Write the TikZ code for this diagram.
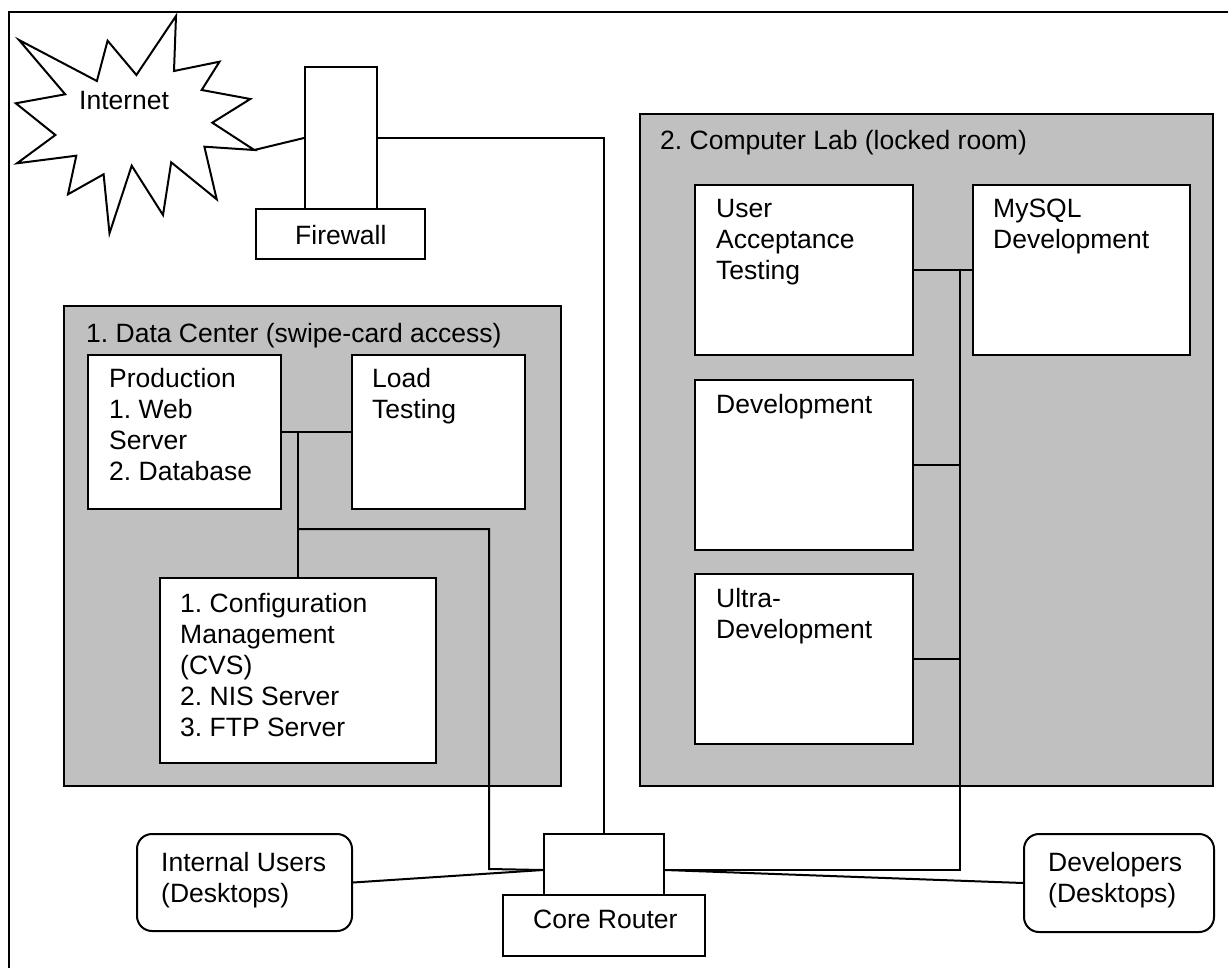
\documentclass[tikz,border=0pt]{standalone}
\usepackage{fontspec}
\setmainfont{Liberation Sans}
\definecolor{roomgray}{RGB}{192,192,192}
\frenchspacing
\begin{document}
\begin{tikzpicture}[x=1pt,y=-1pt,
  wire/.style={line width=2pt, line join=miter},
  box/.style={draw, fill=white, line width=2pt, inner sep=0pt, anchor=north west},
  room/.style={box, fill=roomgray},
  desk/.style={box, rounded corners=15pt},
  lbl/.style={anchor=north west, inner sep=0pt, align=left,
              font=\fontsize{26.5pt}{31pt}\selectfont}]

\useasboundingbox (0,0) rectangle (1228,968);
\fill[white] (0,0) rectangle (1228,968);
\clip (0,0) rectangle (1228,968);

% outer frame (runs off the right and bottom edges)
\draw[line width=2pt] (9,12) rectangle (1260,1000);

% Internet cloud (star burst)
\draw[line width=2pt, fill=white, line join=miter]
  (19,40) -- (96.9,81) -- (107.6,40.7) -- (136.4,75) -- (176,16) -- (174,71)
  -- (219.5,61.7) -- (201.7,90) -- (250.3,99) -- (212.3,122.7) -- (254.3,150)
  -- (204.4,146.7) -- (216.7,199.3) -- (171.2,162.3) -- (163,215) -- (131.7,165.7)
  -- (109.5,233.3) -- (103.6,174.3) -- (68,194.3) -- (76.3,155.7) -- (17,163.3)
  -- (55.4,135) -- (15.8,103.3) -- (65.2,94.3) -- cycle;
\coordinate (nettip) at (254.3,150);
\node[lbl] (t-inet) at (79,91) {Internet};

% firewall
\node[box, minimum width=72pt, minimum height=142pt] (fwtop) at (304,66) {};
\node[box, minimum width=169pt, minimum height=50pt] (fwbase) at (255,208) {};
\node[lbl] (t-fw) at (295,225) {Firewall};

% rooms
\node[room, minimum width=497pt, minimum height=480pt] (dc) at (63,305) {};
\node[lbl] (t-dc) at (86,323) {1. Data Center (swipe-card access)};
\node[room, minimum width=573pt, minimum height=672pt] (lab) at (639,113) {};
\node[lbl] (t-lab) at (660,130) {2. Computer Lab (locked room)};

% data center machines
\node[box, minimum width=193pt, minimum height=154pt] (prod) at (87,354) {};
\node[lbl] (t-prod) at (109,368) {Production\\1. Web\\Server\\2. Database};
\node[box, minimum width=173pt, minimum height=154pt] (load) at (351,354) {};
\node[lbl] (t-load) at (372,368) {Load\\Testing};
\node[box, minimum width=276pt, minimum height=185pt] (cm) at (159,577) {};
\node[lbl] (t-cm) at (180,593) {1. Configuration\\Management\\(CVS)\\2. NIS Server\\3. FTP Server};

% computer lab machines
\node[box, minimum width=218pt, minimum height=170pt] (uat) at (694,184) {};
\node[lbl] (t-uat) at (716,199) {User\\Acceptance\\Testing};
\node[box, minimum width=217pt, minimum height=170pt] (mysql) at (972,184) {};
\node[lbl] (t-mysql) at (993,199) {MySQL\\Development};
\node[box, minimum width=218pt, minimum height=170pt] (dev) at (694,379) {};
\node[lbl] (t-dev) at (716,394) {Development};
\node[box, minimum width=218pt, minimum height=170pt] (ultra) at (694,573) {};
\node[lbl] (t-ultra) at (716,588) {Ultra-\\Development};

% core router
\node[box, minimum width=120pt, minimum height=61pt] (rtop) at (543,833) {};
\node[box, minimum width=202pt, minimum height=61pt] (rbase) at (502,894) {};
\node[lbl] (t-router) at (533,910) {Core Router};

% desktops
\node[desk, minimum width=215pt, minimum height=97pt] (iu) at (136,833) {};
\node[lbl] (t-iu) at (161,852) {Internal Users\\(Desktops)};
\node[desk, minimum width=190pt, minimum height=98pt] (devs) at (1023,833) {};
\node[lbl] (t-devs) at (1048,852) {Developers\\(Desktops)};

% links
\coordinate (rportl) at ([yshift=-5.5pt]rtop.west);
\coordinate (rportr) at ([yshift=-5.5pt]rtop.east);
\draw[wire] (nettip) -- (fwtop.west);
\draw[wire] (fwtop.east) -| (rtop.north);

\draw[wire] (prod.east) -- (load.west);
\draw[wire] (cm.north) -- (cm.north |- prod.east);
\coordinate (dcbranch) at (297,529);
\coordinate (dcdrop) at (489,869);
\draw[wire] (dcbranch) -| (dcdrop) -- (rportl);

\draw[wire] (uat.east) -- (mysql.west);
\coordinate (labbus) at (960,269);
\draw[wire] (labbus) |- (rportr);
\draw[wire] (dev.east) -- (dev.east -| labbus);
\draw[wire] (ultra.east) -- (ultra.east -| labbus);

\draw[wire] (iu.east) -- (rportl);
\draw[wire] (rportr) -- (devs.west);
\end{tikzpicture}
\end{document}
